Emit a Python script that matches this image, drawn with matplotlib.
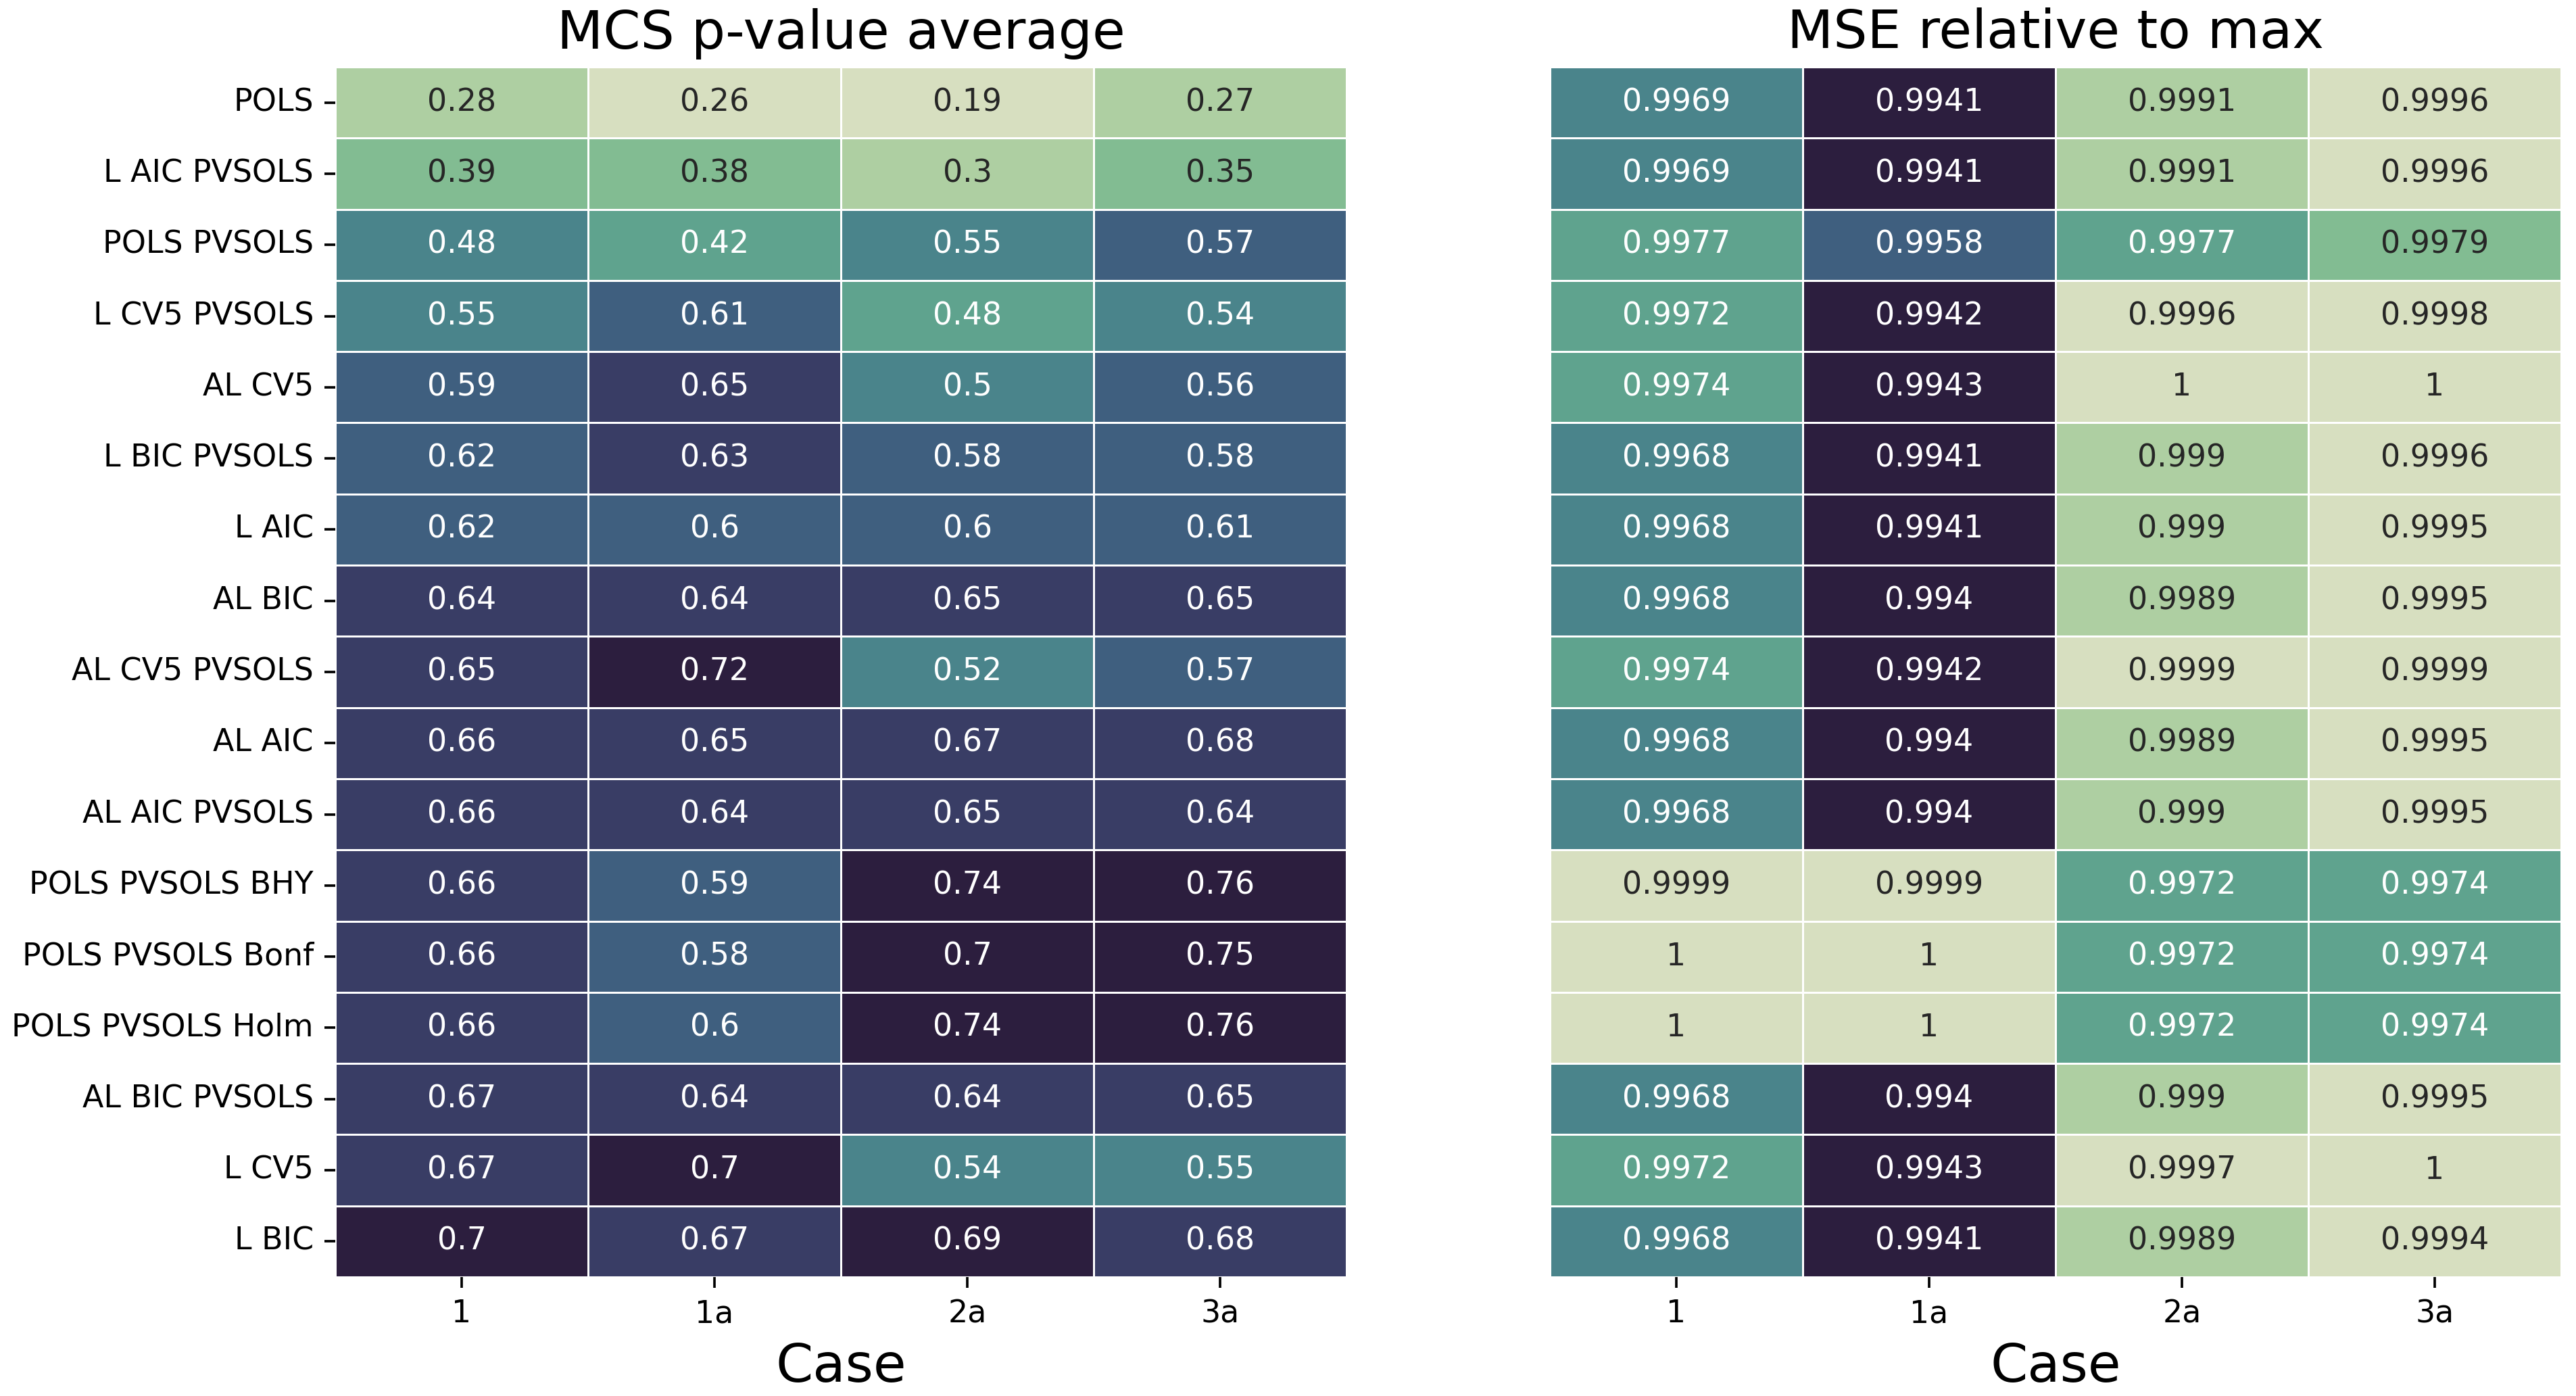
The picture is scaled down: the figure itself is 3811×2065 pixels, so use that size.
import matplotlib
matplotlib.use("Agg")
import matplotlib.pyplot as plt
import numpy as np
import pandas as pd
import seaborn as sns

methods = ["POLS", "L AIC PVSOLS", "POLS PVSOLS", "L CV5 PVSOLS", "AL CV5",
           "L BIC PVSOLS", "L AIC", "AL BIC", "AL CV5 PVSOLS", "AL AIC",
           "AL AIC PVSOLS", "POLS PVSOLS BHY", "POLS PVSOLS Bonf",
           "POLS PVSOLS Holm", "AL BIC PVSOLS", "L CV5", "L BIC"]
cases = ["1", "1a", "2a", "3a"]

# MCS p-value average (columns: 1, 1a, 2a, 3a)
case_1 = [0.28, 0.39, 0.48, 0.546, 0.59, 0.617, 0.617, 0.64, 0.65, 0.66, 0.66, 0.66, 0.66, 0.66, 0.67, 0.67, 0.70]
case_1a = [0.258, 0.38, 0.42, 0.61, 0.65, 0.63, 0.60, 0.64, 0.72, 0.65, 0.64, 0.59, 0.58, 0.60, 0.64, 0.70, 0.67]
case_2a = [0.19, 0.30, 0.546, 0.4758, 0.50, 0.58, 0.60, 0.65, 0.52, 0.67, 0.65, 0.74, 0.70, 0.74, 0.64, 0.54, 0.692]
case_3a = [0.27, 0.35, 0.57, 0.54, 0.56, 0.58, 0.61, 0.65, 0.57, 0.68, 0.64, 0.762, 0.75, 0.76, 0.65, 0.546, 0.68]

# MSE relative to max (columns: 1, 1a, 2a, 3a)
mse_1 = [0.9969, 0.9969, 0.9977, 0.9972, 0.9974, 0.9968, 0.9968, 0.9968, 0.9974, 0.9968, 0.9968, 0.9999, 1.0, 1.0, 0.9968, 0.9972, 0.9968]
mse_1a = [0.9941, 0.9941, 0.9958, 0.9942, 0.9943, 0.9941, 0.9941, 0.9940, 0.9942, 0.9940, 0.9940, 0.9999, 1.0, 1.0, 0.9940, 0.9943, 0.9941]
mse_2a = [0.9991, 0.9991, 0.9977, 0.9996, 0.99998, 0.9990, 0.9990, 0.9989, 0.9999, 0.9989, 0.9990, 0.9972, 0.9972, 0.9972, 0.9990, 0.9997, 0.9989]
mse_3a = [0.9996, 0.9996, 0.9979, 0.9998, 0.99997, 0.9996, 0.9995, 0.9995, 0.9999, 0.9995, 0.9995, 0.9974, 0.9974, 0.9974, 0.9995, 0.99996, 0.9994]

pval = pd.DataFrame({c: v for c, v in zip(cases, [case_1, case_1a, case_2a, case_3a])}, index=methods)
mse = pd.DataFrame({c: v for c, v in zip(cases, [mse_1, mse_1a, mse_2a, mse_3a])}, index=methods)

palette = sns.cubehelix_palette(8, start=.5, rot=-.75)

W, H, DPI = 3811, 2065, 330
fig = plt.figure(figsize=(W / DPI, H / DPI), dpi=DPI)
ax1 = fig.add_axes([496 / W, 1 - 1889 / H, 1496 / W, 1790 / H])
ax2 = fig.add_axes([2293 / W, 1 - 1889 / H, 1496 / W, 1790 / H])

sns.heatmap(pval, ax=ax1, cmap=palette, annot=True, fmt=".2g", cbar=False,
            linewidths=0.3, linecolor="white", annot_kws={"fontsize": 10})
sns.heatmap(mse, ax=ax2, cmap=palette[::-1], annot=True, fmt=".4g", cbar=False,
            linewidths=0.3, linecolor="white", yticklabels=False,
            annot_kws={"fontsize": 10})

ax1.set_title("MCS p-value average", fontsize="xx-large")
ax2.set_title("MSE relative to max", fontsize="xx-large")
for ax in (ax1, ax2):
    ax.set_xlabel("Case", fontsize="xx-large")
    ax.set_ylabel("")
    ax.tick_params(axis="x", labelrotation=0, labelsize=10)
ax1.tick_params(axis="y", labelrotation=0, labelsize=10)
ax2.tick_params(axis="y", left=False)

fig.savefig("out.png", dpi=DPI)
